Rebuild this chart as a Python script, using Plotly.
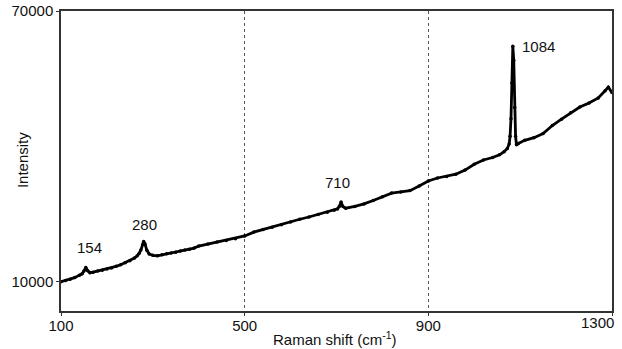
import plotly.graph_objects as go

shift = [100,110,120,130,140,146,150,154,158,163,170,180,190,200,210,220,230,240,250,260,
         266,270,274,278,280,283,287,292,300,310,320,330,340,350,360,370,380,390,400,420,
         440,460,480,500,520,540,560,580,600,620,640,660,680,695,702,706,710,714,720,740,
         760,780,800,820,840,860,880,900,920,940,960,980,1000,1020,1040,1055,1065,1072,1076,1078,
         1080,1082,1084,1086,1088,1090,1092,1096,1110,1130,1150,1170,1190,1210,1230,1250,1270,1285,1292,1300]
intensity = [9950,10200,10500,10850,11400,11700,12300,13100,12400,11950,12050,12300,12500,12750,13000,13350,13700,14150,14600,15200,
             15700,16200,17000,18200,18850,18300,16900,16100,15800,15700,15900,16150,16300,16500,16750,16950,17150,17400,17850,18300,
             18750,19100,19500,20100,20950,21550,22050,22600,23200,23800,24300,24850,25350,25800,26100,26600,27600,26600,26250,26650,
             27200,27950,28800,29600,29850,30150,31200,32300,32950,33300,33800,34700,36000,36950,37500,38100,38800,39500,40500,42200,
             46100,54000,62200,59100,48600,42200,40300,40600,41300,41900,42800,44600,46000,47400,48700,49600,50700,52300,53100,51900]

peak_labels = ["154", "280", "710", "1084"]
peak_label_x = [162, 282, 703, 1139]
peak_label_y = [17440, 22550, 31950, 62170]

x_ticks = [100, 500, 900, 1300]
x_tick_text = ["100", "500", "900", ""]
y_ticks = [10000, 70000]

FONT = "Liberation Sans, Arial, sans-serif"
TXT = dict(family=FONT, size=15, color="#111")

fig = go.Figure()
fig.add_trace(go.Scatter(
    x=shift, y=intensity, mode="lines+markers",
    line=dict(color="black", width=2.8),
    marker=dict(color="black", size=3.5),
    showlegend=False, hoverinfo="skip"))

for t, xx, yy in zip(peak_labels, peak_label_x, peak_label_y):
    fig.add_annotation(x=xx, y=yy, text=t, showarrow=False, font=TXT)

# last x tick label, right-aligned so it stays inside the page
fig.add_annotation(x=x_ticks[-1], xref="x", y=0, yref="paper", yanchor="top", yshift=-1,
                   xanchor="right", xshift=4, text=str(x_ticks[-1]), showarrow=False, font=TXT)

fig.add_annotation(xref="paper", yref="paper", x=-0.0708, y=0.503, xanchor="center",
                   yanchor="middle", text="Intensity",
                   textangle=-90, showarrow=False, font=TXT)
fig.add_annotation(xref="paper", yref="paper", x=0.498, y=-0.093, yanchor="middle",
                   xanchor="center",
                   text="Raman shift (cm<sup>-1</sup>)", showarrow=False, font=TXT)

fig.update_layout(
    width=622, height=349,
    margin=dict(l=61, r=10, t=11, b=38, autoexpand=False),
    paper_bgcolor="white", plot_bgcolor="white",
    font=TXT,
    xaxis=dict(range=[100, 1300], tickvals=x_ticks, ticktext=x_tick_text, automargin=False,
               showline=True, linecolor="#333", linewidth=1.5, mirror=True,
               ticks="outside", ticklen=3, tickcolor="#333", ticklabelstandoff=-3,
               showgrid=True, gridcolor="#555", gridwidth=1, griddash="dot",
               zeroline=False),
    yaxis=dict(range=[3444, 70000], tickvals=y_ticks, ticktext=[str(v) for v in y_ticks],
               automargin=False,
               showline=True, linecolor="#333", linewidth=1.5, mirror=True,
               ticks="outside", ticklen=3, tickcolor="#333",
               showgrid=False, zeroline=False),
)

fig.write_html("out.html")
